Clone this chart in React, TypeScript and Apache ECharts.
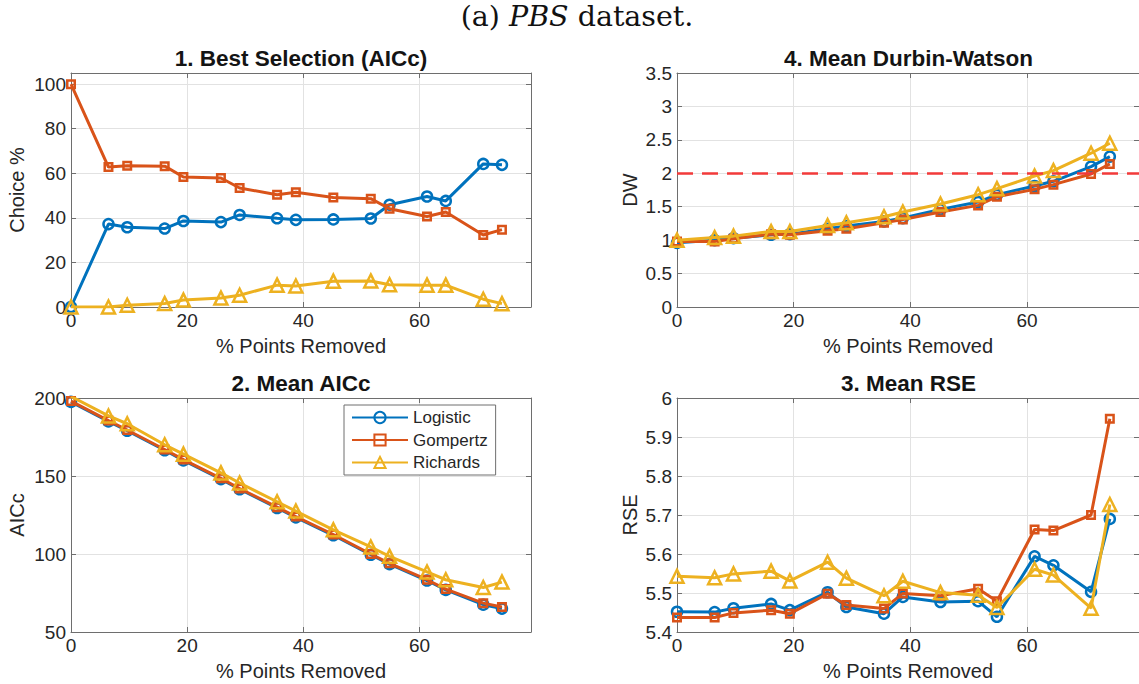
import React, { useEffect, useRef } from 'react';
import * as echarts from 'echarts';

// % of points removed (x values shared by all panels)
const xPct = [0, 6.45, 9.68, 16.13, 19.35, 25.81, 29.03, 35.48, 38.71, 45.16, 51.61, 54.84, 61.29, 64.52, 70.97, 74.19];

// 1. Best Selection (AICc) – Choice %
const choiceLogistic = [0, 37.2, 35.8, 35.2, 38.6, 38.1, 41.3, 39.8, 39.1, 39.3, 39.7, 45.9, 49.6, 47.6, 64.2, 63.8];
const choiceGompertz = [100, 62.8, 63.4, 63.2, 58.3, 57.9, 53.4, 50.4, 51.5, 49.1, 48.6, 44.1, 40.6, 42.6, 32.3, 34.7];
const choiceRichards = [0, 0, 0.8, 1.6, 3.1, 4.0, 5.3, 9.8, 9.4, 11.6, 11.7, 10.0, 9.8, 9.8, 3.5, 1.5];

// 4. Mean Durbin-Watson
const dwLogistic = [0.96, 1.0, 1.03, 1.08, 1.09, 1.17, 1.21, 1.28, 1.33, 1.46, 1.57, 1.68, 1.81, 1.88, 2.1, 2.25];
const dwGompertz = [0.98, 0.98, 1.02, 1.09, 1.08, 1.14, 1.17, 1.26, 1.31, 1.42, 1.52, 1.65, 1.76, 1.83, 1.99, 2.14];
const dwRichards = [1.0, 1.04, 1.06, 1.13, 1.13, 1.22, 1.26, 1.35, 1.42, 1.54, 1.68, 1.77, 1.96, 2.04, 2.3, 2.45];
const dwReference = 2;

// 2. Mean AICc
const aicLogistic = [197.5, 185, 179, 166.5, 160, 148, 141.5, 129.5, 123.5, 112, 99.5, 93.5, 83, 77, 67.5, 65];
const aicGompertz = [198, 185.5, 179.5, 167, 160.5, 148.5, 142, 130, 124, 112.5, 100, 94, 83.5, 77.5, 68.5, 66];
const aicRichards = [201, 188.5, 183.5, 170, 164, 152, 145.5, 133.5, 127.5, 115.5, 104.5, 98.5, 88.5, 83.5, 78.5, 82];

// 3. Mean RSE
const rseLogistic = [5.452, 5.451, 5.461, 5.472, 5.456, 5.502, 5.464, 5.447, 5.49, 5.477, 5.479, 5.439, 5.594, 5.571, 5.503, 5.69];
const rseGompertz = [5.437, 5.437, 5.449, 5.456, 5.447, 5.498, 5.469, 5.46, 5.499, 5.493, 5.511, 5.479, 5.663, 5.66, 5.7, 5.947];
const rseRichards = [5.543, 5.539, 5.549, 5.556, 5.531, 5.579, 5.538, 5.493, 5.53, 5.501, 5.494, 5.463, 5.561, 5.546, 5.461, 5.727];

const modelNames = ['Logistic', 'Gompertz', 'Richards'];
const panelTitles = ['1. Best Selection (AICc)', '4. Mean Durbin-Watson', '2. Mean AICc', '3. Mean RSE'];
const yNames = ['Choice %', 'DW', 'AICc', 'RSE'];
const xName = '% Points Removed';

const COLORS = ['#0072BD', '#D95319', '#EDB120'];
const SYMBOLS = ['circle', 'rect', 'triangle'];
const SYMBOL_SIZES = [10, 7.5, 13];
const FONT = '"Liberation Sans", Arial, Helvetica, sans-serif';
const AXIS_COLOR = '#6e6e6e';
const TEXT_COLOR = '#262626';

export default function App() {
  const ref = useRef<HTMLDivElement>(null);

  useEffect(() => {
    document.body.style.margin = '0';
    const chart = echarts.init(ref.current as HTMLDivElement, undefined, { renderer: 'svg' });

    const grids = [
      { left: 71, top: 73, width: 460, height: 234 },
      { left: 677, top: 73, width: 463, height: 234 },
      { left: 71, top: 398, width: 460, height: 234 },
      { left: 677, top: 398, width: 463, height: 234 },
    ];
    const yRanges = [
      { min: 0, max: 105, interval: 20 },
      { min: 0, max: 3.5, interval: 0.5 },
      { min: 50, max: 200, interval: 50 },
      { min: 5.4, max: 6, interval: 0.1 },
    ];
    const yNameGaps = [44, 37, 44, 37];
    const panelData = [
      [choiceLogistic, choiceGompertz, choiceRichards],
      [dwLogistic, dwGompertz, dwRichards],
      [aicLogistic, aicGompertz, aicRichards],
      [rseLogistic, rseGompertz, rseRichards],
    ];

    const tickLabelStyle = { fontFamily: FONT, fontSize: 19, color: TEXT_COLOR };

    const xAxes: any[] = [];
    const yAxes: any[] = [];
    grids.forEach((_, g) => {
      xAxes.push({
        type: 'value', gridIndex: g, min: 0, max: 79.19, interval: 20, position: 'bottom',
        name: xName, nameLocation: 'middle', nameGap: 29,
        nameTextStyle: { fontFamily: FONT, fontSize: 20, color: TEXT_COLOR },
        axisLine: { show: true, onZero: false, lineStyle: { color: AXIS_COLOR, width: 1 } },
        axisTick: { show: true, inside: true, length: 5, lineStyle: { color: AXIS_COLOR } },
        axisLabel: { ...tickLabelStyle, margin: 4, showMaxLabel: false },
        splitLine: { show: true, lineStyle: { color: '#e2e2e2', width: 1 } },
      });
      xAxes.push({
        type: 'value', gridIndex: g, min: 0, max: 79.19, interval: 20, position: 'top',
        axisLine: { show: true, onZero: false, lineStyle: { color: AXIS_COLOR, width: 1 } },
        axisTick: { show: true, inside: true, length: 5, lineStyle: { color: AXIS_COLOR } },
        axisLabel: { show: false }, splitLine: { show: false },
      });
      const yr = yRanges[g];
      yAxes.push({
        type: 'value', gridIndex: g, min: yr.min, max: yr.max, interval: yr.interval, position: 'left',
        name: yNames[g], nameLocation: 'middle', nameGap: yNameGaps[g],
        nameTextStyle: { fontFamily: FONT, fontSize: 20, color: TEXT_COLOR },
        axisLine: { show: true, onZero: false, lineStyle: { color: AXIS_COLOR, width: 1 } },
        axisTick: { show: true, inside: true, length: 5, lineStyle: { color: AXIS_COLOR } },
        axisLabel: { ...tickLabelStyle, margin: 5, showMaxLabel: g !== 0 },
        splitLine: { show: true, lineStyle: { color: '#e2e2e2', width: 1 } },
      });
      yAxes.push({
        type: 'value', gridIndex: g, min: yr.min, max: yr.max, interval: yr.interval, position: 'right',
        axisLine: { show: true, onZero: false, lineStyle: { color: AXIS_COLOR, width: 1 } },
        axisTick: { show: true, inside: true, length: 5, lineStyle: { color: AXIS_COLOR } },
        axisLabel: { show: false }, splitLine: { show: false },
      });
    });

    const series: any[] = [];
    panelData.forEach((sets, g) => {
      sets.forEach((vals, m) => {
        const s: any = {
          type: 'line', name: modelNames[m],
          xAxisIndex: g * 2, yAxisIndex: g * 2,
          data: xPct.map((x, i) => [x, vals[i]]),
          symbol: SYMBOLS[m], symbolSize: SYMBOL_SIZES[m], showAllSymbol: true,
          lineStyle: { color: COLORS[m], width: 3 },
          itemStyle: { color: 'rgba(255,255,255,0)', borderColor: COLORS[m], borderWidth: 2.5 },
          emphasis: { disabled: true },
          z: 2 + m,
        };
        if (g === 1 && m === 2) {
          s.markLine = {
            silent: true, symbol: 'none', label: { show: false },
            lineStyle: { color: '#F23A3A', type: [16, 9], width: 2.5 },
            data: [{ yAxis: dwReference }],
          };
        }
        series.push(s);
      });
    });

    const serif = '"DejaVu Serif", "Liberation Serif", serif';
    const graphic: any[] = [
      {
        type: 'text', x: 577, y: 16,
        style: {
          text: '{n|(a) }{i|PBS}{n| dataset.}',
          align: 'center', verticalAlign: 'middle',
          rich: {
            n: { fontFamily: serif, fontSize: 28.5, fill: '#111' },
            i: { fontFamily: serif, fontSize: 28.5, fontStyle: 'italic', fill: '#111' },
          },
        },
      },
    ];
    grids.forEach((gr, g) => {
      graphic.push({
        type: 'text', x: gr.left + gr.width / 2, y: gr.top - 15,
        style: {
          text: panelTitles[g], align: 'center', verticalAlign: 'middle',
          fontFamily: FONT, fontSize: 22.5, fontWeight: 'bold', fill: '#141414',
        },
      });
    });

    chart.setOption({
      animation: false,
      backgroundColor: '#ffffff',
      grid: grids,
      xAxis: xAxes,
      yAxis: yAxes,
      series,
      graphic,
      legend: {
        data: modelNames,
        orient: 'vertical', left: 344, top: 405,
        itemWidth: 56, itemHeight: 14, itemGap: 5.5,
        padding: [4, 8, 4, 7],
        borderColor: '#6e6e6e', borderWidth: 1, backgroundColor: '#ffffff',
        textStyle: { fontFamily: FONT, fontSize: 17, color: TEXT_COLOR },
        selectedMode: false,
      },
    });

    return () => chart.dispose();
  }, []);

  return <div ref={ref} style={{ width: 1139, height: 684 }} />;
}
